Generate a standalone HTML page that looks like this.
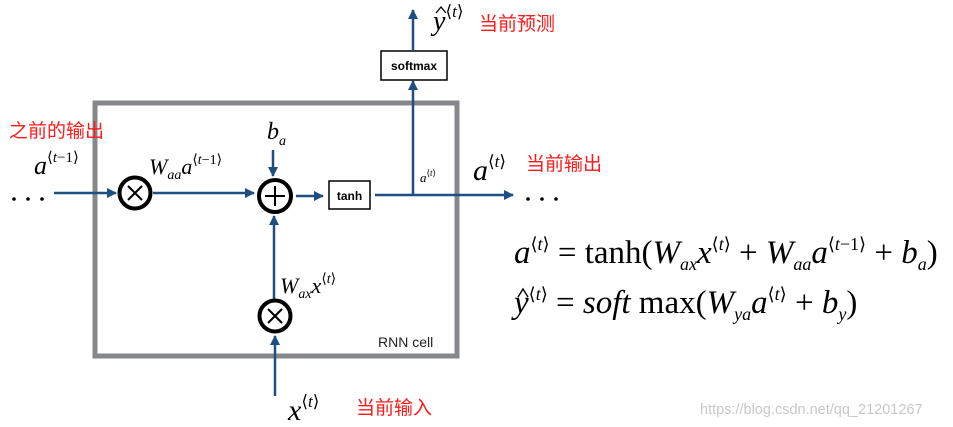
<!DOCTYPE html>
<html><head><meta charset="utf-8"><style>
html,body{margin:0;padding:0;background:#fff;}
svg{display:block;}
.m{font-family:"Liberation Serif",serif;font-style:italic;fill:#000;}
.r{font-family:"Liberation Serif",serif;fill:#000;}
.cn{font-family:"Liberation Sans","Noto Sans CJK SC",sans-serif;fill:#ff1a1a;font-size:19px;}
</style></head><body>
<svg width="953" height="427" viewBox="0 0 953 427" xmlns="http://www.w3.org/2000/svg">
<defs><marker id="ah" markerWidth="10" markerHeight="10" refX="9" refY="5" orient="auto" markerUnits="userSpaceOnUse"><path d="M0,0 L10,5 L0,10 Z" fill="#1f4e80"/></marker></defs>
<rect x="95" y="103" width="362" height="253" fill="none" stroke="#85878b" stroke-width="5"/>
<g stroke="#1f4e80" stroke-width="2.5" fill="none">
<line x1="54" y1="193" x2="116" y2="193" marker-end="url(#ah)"/>
<line x1="153" y1="193" x2="254" y2="193" marker-end="url(#ah)"/>
<line x1="273" y1="150" x2="273" y2="176" marker-end="url(#ah)"/>
<line x1="296" y1="196" x2="323" y2="196" marker-end="url(#ah)"/>
<line x1="375" y1="195" x2="513" y2="195" marker-end="url(#ah)"/>
<line x1="413" y1="195" x2="413" y2="81" marker-end="url(#ah)"/>
<line x1="413" y1="50" x2="413" y2="10" marker-end="url(#ah)"/>
<line x1="274" y1="300" x2="274" y2="216" marker-end="url(#ah)"/>
<line x1="275" y1="396" x2="275" y2="336" marker-end="url(#ah)"/>
</g>
<g stroke="#000" stroke-width="4" fill="#fff">
<circle cx="135" cy="193" r="15.5"/>
<circle cx="275" cy="196" r="16"/>
<circle cx="275" cy="316" r="15.5"/>
</g>
<g stroke="#000" stroke-width="2">
<line x1="128" y1="186" x2="142" y2="200"/><line x1="142" y1="186" x2="128" y2="200"/>
<line x1="268" y1="309" x2="282" y2="323"/><line x1="282" y1="309" x2="268" y2="323"/>
<line x1="265" y1="196" x2="285" y2="196"/><line x1="275" y1="186" x2="275" y2="206"/>
</g>
<rect x="329" y="181" width="41" height="28" fill="#fff" stroke="#000" stroke-width="1.5"/>
<text x="349.5" y="200" text-anchor="middle" font-family="Liberation Sans,sans-serif" font-weight="bold" font-size="12">tanh</text>
<rect x="381" y="51" width="66" height="29" fill="#fff" stroke="#000" stroke-width="1.5"/>
<text x="414" y="70" text-anchor="middle" font-family="Liberation Sans,sans-serif" font-weight="bold" font-size="12">softmax</text>
<text x="378" y="347" font-family="Liberation Sans,sans-serif" font-size="14" fill="#222">RNN cell</text>
<g fill="#000"><circle cx="14" cy="199" r="1.8"/><circle cx="28" cy="199" r="1.8"/><circle cx="42" cy="199" r="1.8"/>
<circle cx="528" cy="199" r="1.8"/><circle cx="542" cy="199" r="1.8"/><circle cx="556" cy="199" r="1.8"/></g>
<text class="cn" x="9" y="137">之前的输出</text>
<text class="cn" x="479" y="30">当前预测</text>
<text class="cn" x="526" y="170">当前输出</text>
<text class="cn" x="356" y="414">当前输入</text>
<text class="m" x="34" y="174" font-size="26">a<tspan font-size="15" dy="-12" font-style="normal">⟨<tspan font-style="italic">t</tspan>−1⟩</tspan></text>
<text class="m" x="149" y="174" font-size="22">W<tspan font-size="14" dy="5">aa</tspan><tspan dy="-5">a</tspan><tspan font-size="14" dy="-10" font-style="normal">⟨<tspan font-style="italic">t</tspan>−1⟩</tspan></text>
<text class="m" x="267" y="139" font-size="24">b<tspan font-size="14" dy="6">a</tspan></text>
<text class="m" x="420" y="182" font-size="13">a<tspan font-size="9" dy="-6" font-style="normal">⟨<tspan font-style="italic">t</tspan>⟩</tspan></text>
<text class="m" x="473" y="180" font-size="30">a<tspan font-size="17" dy="-13" font-style="normal">⟨<tspan font-style="italic">t</tspan>⟩</tspan></text>
<text class="m" x="433" y="30" font-size="28">y<tspan font-size="17" dy="-13" font-style="normal">⟨<tspan font-style="italic">t</tspan>⟩</tspan></text>
<path d="M436,13 L441,7 L446,13" fill="none" stroke="#000" stroke-width="1.3"/>
<text class="m" x="280" y="293" font-size="22">W<tspan font-size="14" dy="5">ax</tspan><tspan dy="-5">x</tspan><tspan font-size="14" dy="-10" font-style="normal">⟨<tspan font-style="italic">t</tspan>⟩</tspan></text>
<text class="m" x="288" y="420" font-size="30">x<tspan font-size="17" dy="-13" font-style="normal">⟨<tspan font-style="italic">t</tspan>⟩</tspan></text>
<text class="r" x="514" y="263" font-size="33"><tspan font-style="italic">a</tspan><tspan font-size="18" dy="-13">⟨<tspan font-style="italic">t</tspan>⟩</tspan><tspan dy="13"> = tanh(</tspan><tspan font-style="italic">W</tspan><tspan font-style="italic" font-size="18" dy="7">ax</tspan><tspan font-style="italic" dy="-7">x</tspan><tspan font-size="18" dy="-13">⟨<tspan font-style="italic">t</tspan>⟩</tspan><tspan dy="13"> + </tspan><tspan font-style="italic">W</tspan><tspan font-style="italic" font-size="18" dy="7">aa</tspan><tspan font-style="italic" dy="-7">a</tspan><tspan font-size="18" dy="-13">⟨<tspan font-style="italic">t</tspan>−1⟩</tspan><tspan dy="13"> + </tspan><tspan font-style="italic">b</tspan><tspan font-style="italic" font-size="18" dy="7">a</tspan><tspan dy="-7">)</tspan></text>
<text class="r" x="514" y="313" font-size="33"><tspan font-style="italic">y</tspan><tspan font-size="18" dy="-13">⟨<tspan font-style="italic">t</tspan>⟩</tspan><tspan dy="13"> = </tspan><tspan font-style="italic">soft</tspan><tspan> max(</tspan><tspan font-style="italic">W</tspan><tspan font-style="italic" font-size="18" dy="7">ya</tspan><tspan font-style="italic" dy="-7">a</tspan><tspan font-size="18" dy="-13">⟨<tspan font-style="italic">t</tspan>⟩</tspan><tspan dy="13"> + </tspan><tspan font-style="italic">b</tspan><tspan font-style="italic" font-size="18" dy="7">y</tspan><tspan dy="-7">)</tspan></text>
<path d="M518,297 L523,289 L528,297" fill="none" stroke="#000" stroke-width="1.4"/>
<text x="700" y="414" font-family="Liberation Sans,sans-serif" font-size="14.5" fill="#c8c8c8">https://blog.csdn.net/qq_21201267</text>
</svg>
</body></html>
